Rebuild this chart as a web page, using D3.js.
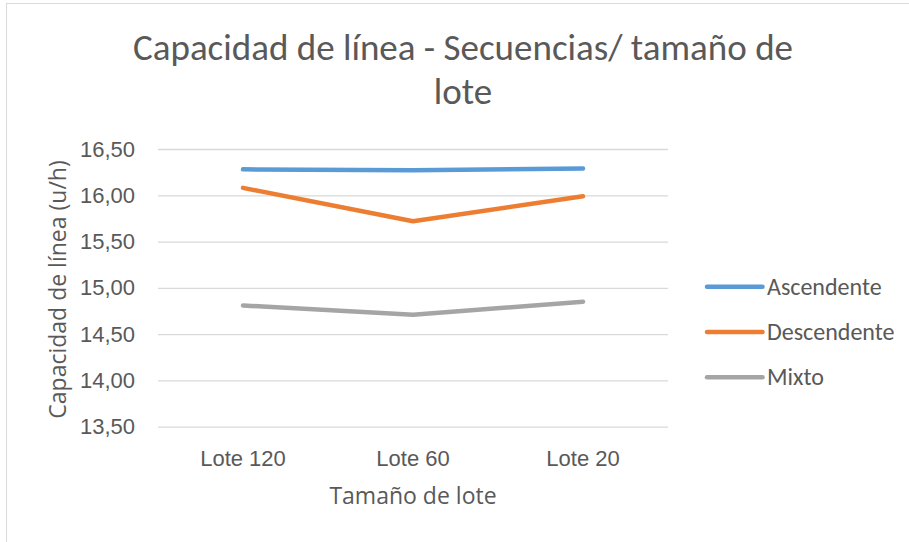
<!DOCTYPE html>
<html>
<head>
<meta charset="utf-8">
<script src="https://cdn.jsdelivr.net/npm/d3@7"></script>
<style>
  html, body { margin: 0; padding: 0; background: #fff; }
  svg { display: block; font-family: Carlito, "Liberation Sans Narrow", "Open Sans", sans-serif; }
</style>
</head>
<body>
<svg id="chart" width="909" height="542"></svg>
<script>
// Lot sizes on the x axis
const categories = ["Lote 120", "Lote 60", "Lote 20"];
// Line capacity (u/h) per sequence type
const ascendente = [16.28, 16.27, 16.29];
const descendente = [16.08, 15.72, 15.99];
const mixto = [14.81, 14.71, 14.85];
const seriesNames = ["Ascendente", "Descendente", "Mixto"];
const seriesColors = ["#5B9BD5", "#ED7D31", "#A5A5A5"];
const yTicks = [13.5, 14.0, 14.5, 15.0, 15.5, 16.0, 16.5];

const series = [ascendente, descendente, mixto].map((values, i) => ({
  name: seriesNames[i], color: seriesColors[i], values
}));

const svg = d3.select("#chart");
const textColor = "#595959";
const titleFont = "'Open Sans', sans-serif";

// chart frame
svg.append("rect")
  .attr("x", 6.5).attr("y", 3.5)
  .attr("width", 920).attr("height", 560)
  .attr("fill", "#fff").attr("stroke", "#D9D9D9").attr("stroke-width", 1);

const plot = { left: 158, right: 668, top: 149, bottom: 426.7 };

const x = d3.scaleBand().domain(categories).range([plot.left, plot.right]);
const y = d3.scaleLinear().domain([13.5, 16.5]).range([plot.bottom, plot.top]);

// gridlines and value labels
const yAxis = d3.axisLeft(y)
  .tickValues(yTicks)
  .tickSize(-(plot.right - plot.left))
  .tickPadding(23)
  .tickFormat(d => d3.format(".2f")(d).replace(".", ","));

const gy = svg.append("g")
  .attr("transform", `translate(${plot.left},0)`)
  .call(yAxis);
gy.select(".domain").remove();
gy.selectAll(".tick line").attr("stroke", "#D9D9D9").attr("stroke-width", 1.3);
gy.selectAll(".tick text")
  .attr("fill", textColor).attr("font-size", 22).attr("font-family", null);

// category labels
const xAxis = d3.axisBottom(x).tickSize(0).tickPadding(23.4);
const gx = svg.append("g")
  .attr("transform", `translate(0,${plot.bottom})`)
  .call(xAxis);
gx.select(".domain").remove();
gx.selectAll(".tick text")
  .attr("fill", textColor).attr("font-size", 22).attr("font-family", null);

// series lines
const line = d3.line()
  .x((d, i) => x(categories[i]) + x.bandwidth() / 2)
  .y(d => y(d));

svg.append("g").selectAll("path")
  .data(series)
  .join("path")
  .attr("d", d => line(d.values))
  .attr("fill", "none")
  .attr("stroke", d => d.color)
  .attr("stroke-width", 4.5)
  .attr("stroke-linecap", "round")
  .attr("stroke-linejoin", "round");

// title
const title = svg.append("text")
  .attr("text-anchor", "middle")
  .attr("fill", textColor).attr("font-size", 37);
title.append("tspan").attr("x", 463).attr("y", 59.5).text("Capacidad de línea - Secuencias/ tamaño de");
title.append("tspan").attr("x", 463).attr("y", 104).text("lote");

// axis titles
svg.append("text")
  .attr("transform", `translate(66,289.5) rotate(-90)`)
  .attr("text-anchor", "middle")
  .attr("fill", textColor).attr("font-size", 23).attr("font-family", titleFont)
  .text("Capacidad de línea (u/h)");

svg.append("text")
  .attr("x", 413).attr("y", 504)
  .attr("text-anchor", "middle")
  .attr("fill", textColor).attr("font-size", 23).attr("font-family", titleFont)
  .text("Tamaño de lote");

// legend
const leg = svg.append("g").selectAll("g")
  .data(series)
  .join("g")
  .attr("transform", (d, i) => `translate(707,${286.7 + i * 45.3})`);
leg.append("line")
  .attr("x1", 0).attr("x2", 55.5)
  .attr("stroke", d => d.color).attr("stroke-width", 4.5)
  .attr("stroke-linecap", "round");
leg.append("text")
  .attr("x", 60).attr("dy", "0.34em")
  .attr("fill", textColor).attr("font-size", 24)
  .text(d => d.name);
</script>
</body>
</html>
